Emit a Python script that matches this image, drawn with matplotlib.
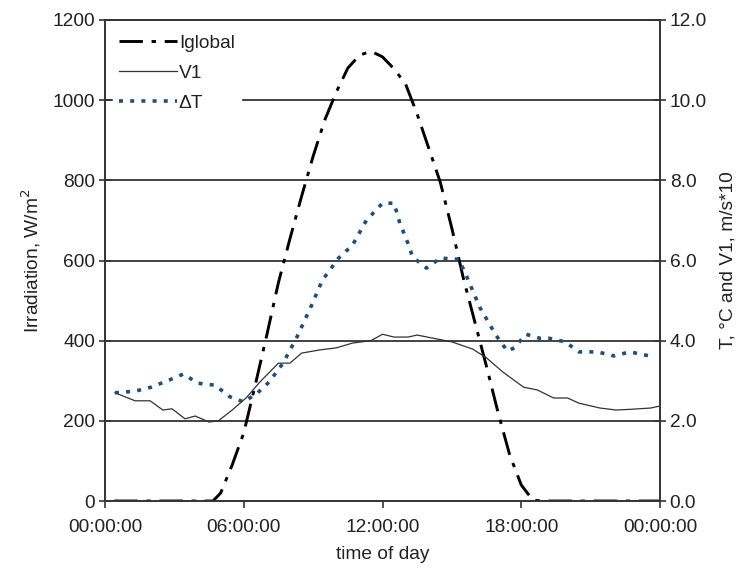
from matplotlib import pyplot as plt

# irradiation, W/m2 (left axis)
hours_irr = [0.4, 1.0, 2.0, 3.0, 4.0, 4.67, 5.0, 5.5, 6.0, 6.5, 7.0, 7.5, 8.0, 8.5, 9.0, 9.5,
             10.0, 10.5, 11.0, 11.5, 12.0, 12.5, 13.0, 13.5, 14.0, 14.5, 15.0, 15.5, 16.0,
             16.5, 17.0, 17.5, 18.0, 18.5, 19.0, 20.0, 21.0, 22.0, 23.0, 24.0]
iglobal = [0, 0, 0, 0, 0, 0, 20, 90, 170, 290, 415, 545, 655, 760, 860, 950,
           1020, 1080, 1112, 1122, 1108, 1078, 1040, 965, 880, 795, 680, 555, 445,
           335, 220, 115, 40, 2, 0, 0, 0, 0, 0, 0]

# wind speed V1 (m/s*10), right axis
hours_v1 = [0.43, 1.3, 1.95, 2.5, 2.9, 3.46, 3.9, 4.5, 4.9, 5.5, 6.1, 6.7, 7.5, 8.0, 8.5,
            9.3, 10.0, 10.7, 11.5, 12.0, 12.5, 13.1, 13.5, 14.2, 15.0, 15.9, 16.5, 17.2,
            18.1, 18.7, 19.4, 20.0, 20.5, 21.4, 22.1, 22.8, 23.6, 24.0]
v1 = [2.70, 2.50, 2.50, 2.27, 2.30, 2.05, 2.12, 1.97, 2.00, 2.27, 2.57, 2.97, 3.44, 3.44, 3.69,
      3.77, 3.82, 3.94, 4.00, 4.16, 4.09, 4.09, 4.14, 4.06, 3.97, 3.79, 3.57, 3.22,
      2.84, 2.77, 2.57, 2.57, 2.44, 2.32, 2.27, 2.29, 2.32, 2.37]

# temperature difference dT, deg C, right axis
hours_dt = [0.43, 1.3, 2.0, 2.7, 3.4, 4.0, 4.75, 5.4, 6.0, 6.6, 7.1, 7.7, 8.3, 8.9, 9.4,
            10.1, 10.7, 11.3, 12.0, 12.5, 12.75, 13.1, 13.3, 13.9, 14.5, 15.3, 15.65, 16.2,
            16.9, 17.4, 17.7, 18.2, 18.8, 19.2, 19.9, 20.5, 21.3, 22.0, 22.7, 23.7]
delta_t = [2.70, 2.74, 2.84, 3.00, 3.17, 2.94, 2.89, 2.60, 2.47, 2.70, 2.97, 3.44, 4.09, 4.84, 5.51,
           6.06, 6.38, 7.00, 7.43, 7.43, 6.93, 6.43, 6.09, 5.81, 6.06, 6.03, 5.59, 4.84,
           4.14, 3.74, 3.82, 4.16, 4.06, 4.06, 3.97, 3.72, 3.72, 3.62, 3.72, 3.60]

xticks = [0, 6, 12, 18, 24]
xlabels = ["00:00:00", "06:00:00", "12:00:00", "18:00:00", "00:00:00"]

plt.rcParams['font.family'] = ['Liberation Sans', 'DejaVu Sans']
txt = "#222222"
fs = 13.8

fig = plt.figure(figsize=(7.4, 5.78), dpi=100)
ax = fig.add_axes([0.1419, 0.1332, 0.75, 0.8322])
ax2 = ax.twinx()

# grid lines on the irradiation axis
for g in [200, 400, 600, 800, 1000, 1200]:
    ax.axhline(g, color="#222222", lw=1.2, zorder=0)

l1, = ax.plot(hours_irr, iglobal, color="black", lw=2.1,
              linestyle=(0, (8, 3, 1.5, 3)), label="Iglobal")
l2, = ax2.plot(hours_v1, v1, color="#333333", lw=0.9, label="V1")
l3, = ax2.plot(hours_dt, delta_t, color="#1f4e79", lw=2.6,
               linestyle=(0, (1.1, 2.0)), label="\u0394T")

ax.set_xlim(0, 24)
ax.set_ylim(0, 1200)
ax2.set_ylim(0, 12)
ax.set_xticks(xticks)
ax.set_xticklabels(xlabels)
ax.set_yticks(range(0, 1201, 200))
ax2.set_yticks(range(0, 13, 2))
ax2.set_yticklabels(["%.1f" % v for v in range(0, 13, 2)])

for a in (ax, ax2):
    for s in a.spines.values():
        s.set_color("#333333")
        s.set_linewidth(1.2)
    a.tick_params(colors="#333333", labelcolor=txt, labelsize=fs, width=1.2)
ax.tick_params(axis="y", direction="inout", length=8, pad=3)
ax2.tick_params(axis="y", direction="inout", length=8, pad=3)
ax.tick_params(axis="x", direction="out", length=5, pad=8)

ax.set_xlabel("time of day", fontsize=fs, color=txt, labelpad=7)
ax.set_ylabel("Irradiation, W/m$^2$", fontsize=fs, color=txt, labelpad=7)
ax2.set_ylabel("T, \u00b0C and V1, m/s*10", fontsize=fs, color=txt, labelpad=9)

leg = ax2.legend(handles=[l1, l2, l3], loc="upper left", fontsize=fs,
                 handlelength=3.0, handletextpad=0.1, labelspacing=0.66,
                 borderaxespad=0.4, borderpad=0.35, frameon=True, fancybox=False)
leg.get_frame().set_facecolor("white")
leg.get_frame().set_edgecolor("white")
leg.get_frame().set_alpha(1)
for t in leg.get_texts():
    t.set_color(txt)

fig.savefig("out.png", dpi=100)
